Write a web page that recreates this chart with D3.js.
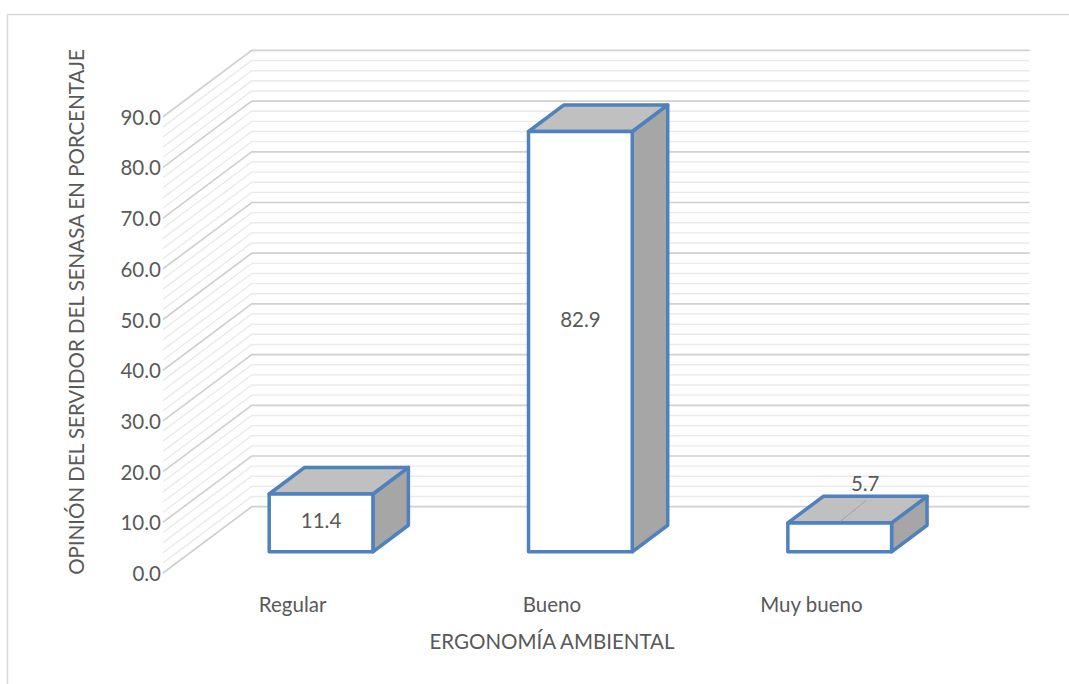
<!DOCTYPE html>
<html>
<head>
<meta charset="utf-8">
<script src="https://cdn.jsdelivr.net/npm/d3@7/dist/d3.min.js"></script>
<style>
  html, body { margin: 0; padding: 0; background: #ffffff; }
  svg { display: block; }
  text { font-family: "Lato", "Open Sans", sans-serif; fill: #595959; }
</style>
</head>
<body>
<svg id="chart" width="1069" height="684"></svg>
<script>
// Chart data
const categories = ["Regular", "Bueno", "Muy bueno"];
const values = [11.4, 82.9, 5.7];
const valueLabels = ["11.4", "82.9", "5.7"];
const yTicks = [0, 10, 20, 30, 40, 50, 60, 70, 80, 90];
const yTickLabels = ["0.0", "10.0", "20.0", "30.0", "40.0", "50.0", "60.0", "70.0", "80.0", "90.0"];
const xTitle = "ERGONOMÍA AMBIENTAL";
const yTitle = "OPINIÓN DEL SERVIDOR DEL SENASA EN PORCENTAJE";

const svg = d3.select("#chart");
const W = 1069, H = 684;
const FS = 20.5;

// chart frame
svg.append("rect")
  .attr("x", 7.5).attr("y", 14.5)
  .attr("width", W + 10).attr("height", H + 10)
  .attr("fill", "none").attr("stroke", "#d9d9d9").attr("stroke-width", 1.5);

// Front plane of the 3D box and its depth direction (oblique projection)
const front = { left: 163, right: 941, base: 573 };
const depth = { dx: 88.7, dy: -66.3 };

const x = d3.scaleBand().domain(categories).range([front.left, front.right]).padding(0);
const y = d3.scaleLinear().domain([0, 90]).range([front.base, front.base - 456.3]);

// project a (frontX, value, depthFraction) point onto the screen
function P(fx, v, d) {
  return [fx + d * depth.dx, y(v) + d * depth.dy];
}

// Grid: side wall diagonals + back wall horizontals, every 2 units
const gridVals = d3.range(0, 90.001, 2);
const grid = svg.append("g");
gridVals.forEach(v => {
  const major = Math.abs(v % 10) < 1e-6;
  const a = P(front.left, v, 0);
  const b = P(front.left, v, 1);
  const c = P(front.right, v, 1);
  grid.append("path")
    .attr("d", d3.line()([a, b, c]))
    .attr("fill", "none")
    .attr("stroke", major ? "#d0d0d0" : "#eaeaea")
    .attr("stroke-width", major ? 1.7 : 1.4);
});

// Y tick labels on the front-left edge
svg.append("g").selectAll("text")
  .data(yTicks)
  .join("text")
  .attr("x", front.left - 2)
  .attr("y", (d) => y(d))
  .attr("text-anchor", "end")
  .attr("dominant-baseline", "central")
  .attr("font-size", FS)
  .text((d, i) => yTickLabels[i]);

// Bars
const dFront = 0.32, dBack = 0.72;
const barRatio = 0.4;
const barStroke = "#4f81bd";
const bars = svg.append("g");

categories.forEach((cat, i) => {
  const v = values[i];
  const bw = x.bandwidth() * barRatio;
  const x0 = x(cat) + (x.bandwidth() - bw) / 2;
  const x1 = x0 + bw;

  const fTL = P(x0, v, dFront), fTR = P(x1, v, dFront);
  const fBL = P(x0, 0, dFront), fBR = P(x1, 0, dFront);
  const bTL = P(x0, v, dBack), bTR = P(x1, v, dBack);
  const bBR = P(x1, 0, dBack);

  const g = bars.append("g")
    .attr("stroke", barStroke)
    .attr("stroke-width", 3.5)
    .attr("stroke-linejoin", "round");

  // side face
  g.append("path")
    .attr("d", d3.line()([fTR, bTR, bBR, fBR]) + "Z")
    .attr("fill", "#a6a6a6");
  // top face
  g.append("path")
    .attr("d", d3.line()([fTL, bTL, bTR, fTR]) + "Z")
    .attr("fill", "#c0c0c0");
  // front face
  g.append("path")
    .attr("d", d3.line()([fTL, fTR, fBR, fBL]) + "Z")
    .attr("fill", "#ffffff");

  const cx = (x0 + x1) / 2;
  if (v > 8) {
    const p = P(cx, v * 0.555, dFront);
    bars.append("text")
      .attr("x", p[0]).attr("y", p[1])
      .attr("text-anchor", "middle")
      .attr("dominant-baseline", "central")
      .attr("font-size", FS)
      .text(valueLabels[i]);
  } else {
    // small bar: label above with a leader line across the top face
    const ft = P(cx, v, dFront);
    const bt = P(cx, v, dBack);
    bars.append("line")
      .attr("x1", ft[0]).attr("y1", ft[1] - 1)
      .attr("x2", bt[0] - 9).attr("y2", bt[1] + 4)
      .attr("stroke", "#a0a0a0").attr("stroke-width", 1);
    bars.append("text")
      .attr("x", bt[0] - 10).attr("y", bt[1] - 13)
      .attr("text-anchor", "middle")
      .attr("dominant-baseline", "central")
      .attr("font-size", FS)
      .text(valueLabels[i]);
  }
});

// Category labels along the front edge
svg.append("g").selectAll("text")
  .data(categories)
  .join("text")
  .attr("x", (d) => x(d) + x.bandwidth() / 2)
  .attr("y", 604)
  .attr("text-anchor", "middle")
  .attr("dominant-baseline", "central")
  .attr("font-size", FS)
  .text((d) => d);

// Axis titles
svg.append("text")
  .attr("x", 552).attr("y", 641)
  .attr("text-anchor", "middle")
  .attr("dominant-baseline", "central")
  .attr("font-size", FS)
  .text(xTitle);

svg.append("text")
  .attr("transform", "translate(76,312) rotate(-90)")
  .attr("text-anchor", "middle")
  .attr("dominant-baseline", "central")
  .attr("font-size", FS)
  .text(yTitle);
</script>
</body>
</html>
